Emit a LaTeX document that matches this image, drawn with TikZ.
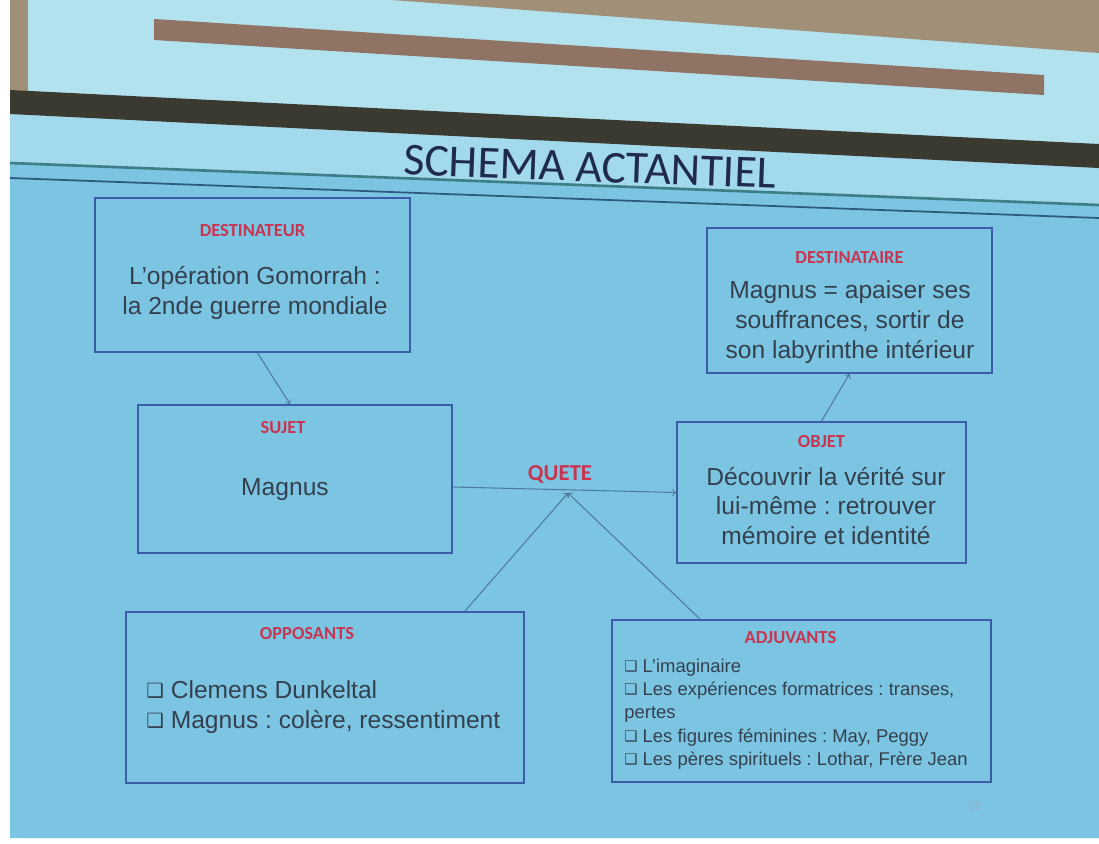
\documentclass[tikz,border=0pt]{standalone}
\usepackage{fontspec}
\setmainfont{Liberation Sans}
\newfontfamily\headfont{Carlito}
\newfontfamily\symfont{DejaVu Sans}
\usetikzlibrary{arrows, positioning}
\definecolor{slide}{HTML}{7BC5E2}
\definecolor{clair}{HTML}{A2D9EC}
\definecolor{haut}{HTML}{B3E2EF}
\definecolor{mur}{HTML}{A09078}
\definecolor{barre}{HTML}{8F7466}
\definecolor{bande}{HTML}{3B3A30}
\definecolor{ligne}{HTML}{3E7E86}
\definecolor{ligneb}{HTML}{2E5A7A}
\definecolor{cadre}{HTML}{3D5CA8}
\definecolor{rouge}{HTML}{C93550}
\definecolor{encre}{HTML}{34404E}
\definecolor{trait}{HTML}{4F7C9C}
\definecolor{marine}{HTML}{1F2A4E}
\newcommand{\carre}{\raisebox{0.05em}{\symfont\scalebox{0.8}{❑}}\ }
\frenchspacing

\begin{document}
\begin{tikzpicture}[x=0.02cm, y=-0.02cm]
\tikzstyle{boite}=[draw=cadre, line width=1.1pt, rectangle, inner sep=0]
\tikzstyle{titre}=[font=\headfont\bfseries\fontsize{10.5}{12}\selectfont, text=rouge, inner sep=0]
\tikzstyle{texte}=[font=\fontsize{14}{17}\selectfont, text=encre, align=center, inner sep=0]
\tikzstyle{fleche}=[->, draw=trait, line width=0.6pt]
    \useasboundingbox (0,0) rectangle (1099,843);
    \fill[white] (0,0) rectangle (1099,843);
    \fill[haut] (10,0) rectangle (1099,190);
    \fill[mur] (392,0) -- (1099,0) -- (1099,53) -- cycle;
    \fill[mur] (10,0) rectangle (28,92);
    \fill[barre] (154,19) -- (1044,75) -- (1044,95) -- (154,40) -- cycle;
    \fill[slide] (10,114) -- (1099,168) -- (1099,838) -- (10,838) -- cycle;
    \fill[clair] (10,114) -- (1099,168) -- (1099,205) -- (10,163) -- cycle;
    \fill[bande] (10,90) -- (1099,144) -- (1099,168) -- (10,114) -- cycle;
    \draw[ligne, line width=1.5pt] (10,163) -- (1099,205);
    \draw[ligneb, line width=1pt] (10,178) -- (1099,218);

    \node (titre) [font=\headfont\fontsize{26}{29}\selectfont, text=marine, rotate=-2.1, inner sep=0] at (590,167) {SCHEMA ACTANTIEL};

    \node (dest) [boite, minimum width=6.3cm, minimum height=3.08cm] at (252.5,275) {};
    \node (sujet) [boite, minimum width=6.28cm, minimum height=2.96cm] at (295,479) {};
    \node (objet) [boite, minimum width=5.78cm, minimum height=2.82cm] at (821.5,492.5) {};
    \node (destinataire) [boite, minimum width=5.7cm, minimum height=2.9cm] at (849.5,300.5) {};
    \node (oppo) [boite, minimum width=7.96cm, minimum height=3.42cm] at (325,697.5) {};
    \node (adju) [boite, minimum width=7.58cm, minimum height=3.24cm] at (801.5,701) {};

    \node (desthead) [titre, below=5.4mm of dest.north] {DESTINATEUR};
    \node (sujethead) [titre, below=3.3mm of sujet.north, xshift=-2.4mm] {SUJET};
    \node (objethead) [titre, below=2.7mm of objet.north] {OBJET};
    \node (destinatairehead) [titre, below=4.7mm of destinataire.north] {DESTINATAIRE};
    \node (oppohead) [titre, below=3.1mm of oppo.north, xshift=-3.6mm] {OPPOSANTS};
    \node (adjuhead) [titre, below=2.3mm of adju.north, xshift=-2.2mm] {ADJUVANTS};

    \node (destbody) [texte] at (255,293) {L’opération Gomorrah :\\la 2nde guerre mondiale};
    \node (sujetbody) [texte] at (285,490) {Magnus};
    \node (objetbody) [texte] at (826,506) {Découvrir la vérité sur\\lui-même : retrouver\\mémoire et identité};
    \node (destinatairebody) [texte] at (850,322) {Magnus = apaiser ses\\souffrances, sortir de\\son labyrinthe intérieur};
    \node (oppobody) [texte, align=left, anchor=west] at (146,707) {\carre Clemens Dunkeltal\\\carre Magnus : colère, ressentiment};
    \node (adjubody) [texte, align=left, anchor=west, font=\fontsize{10.5}{13.3}\selectfont] at (624,714) {\carre L’imaginaire\\\carre Les expériences formatrices : transes,\\pertes\\\carre Les figures féminines : May, Peggy\\\carre Les pères spirituels : Lothar, Frère Jean};

    \node (quete) [font=\headfont\bfseries\fontsize{13}{15}\selectfont, text=rouge, inner sep=0] at (560,474) {QUETE};
    \coordinate (sommet) at (568,493);
    \node (page) [font=\fontsize{6}{7}\selectfont, text=trait!60, inner sep=0] at (975,806) {35};

    \draw[fleche] ([xshift=1mm]dest.south) -- ([xshift=-1mm]sujet.north);
    \draw[fleche] ([yshift=-1.6mm]sujet.east) -- (objet.west);
    \draw[fleche] (objet.north) -- (destinataire.south);
    \draw[fleche] ([xshift=2.8cm]oppo.north) -- (sommet);
    \draw[fleche] ([xshift=-2.03cm]adju.north) -- (sommet);
\end{tikzpicture}
\end{document}
